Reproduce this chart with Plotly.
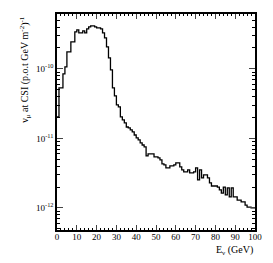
import plotly.graph_objects as go

bin_edges = list(range(0, 101))
flux = [
    2.04e-11, 5.33e-11, 5.33e-11, 8.47e-11, 1.07e-10, 1.76e-10, 1.76e-10, 2.45e-10, 2.45e-10, 3.41e-10,
    3.64e-10, 3.30e-10, 3.30e-10, 3.52e-10, 3.30e-10, 3.76e-10, 4.02e-10, 4.16e-10, 4.16e-10, 4.02e-10,
    3.89e-10, 3.89e-10, 3.76e-10, 3.30e-10, 2.79e-10, 2.07e-10, 1.44e-10, 9.70e-11, 5.33e-11, 4.09e-11,
    3.03e-11, 2.84e-11, 2.04e-11, 1.85e-11, 1.67e-11, 1.46e-11, 1.42e-11, 1.33e-11, 1.24e-11, 1.12e-11,
    1.02e-11, 9.51e-12, 8.61e-12, 8.05e-12, 7.55e-12, 5.60e-12, 5.98e-12, 5.98e-12, 5.98e-12, 5.42e-12,
    5.42e-12, 5.24e-12, 4.91e-12, 4.30e-12, 4.16e-12, 3.77e-12, 3.77e-12, 4.02e-12, 4.02e-12, 4.16e-12,
    4.44e-12, 4.44e-12, 3.89e-12, 3.52e-12, 3.30e-12, 3.30e-12, 3.52e-12, 3.19e-12, 3.19e-12, 3.30e-12,
    3.77e-12, 2.53e-12, 3.52e-12, 2.70e-12, 2.99e-12, 2.99e-12, 2.70e-12, 2.29e-12, 2.07e-12, 2.07e-12,
    2.07e-12, 2.00e-12, 1.82e-12, 1.64e-12, 2.00e-12, 1.54e-12, 1.94e-12, 1.44e-12, 1.94e-12, 1.44e-12,
    1.44e-12, 1.30e-12, 1.30e-12, 1.22e-12, 1.22e-12, 1.10e-12, 1.03e-12, 1.03e-12, 1.00e-12, 1.00e-12,
]
x_ticks = [0, 10, 20, 30, 40, 50, 60, 70, 80, 90, 100]
y_ticks = [1e-12, 1e-11, 1e-10]
y_ticktext = ["10<sup>-12</sup>", "10<sup>-11</sup>", "10<sup>-10</sup>"]
y_minor = [m * 10.0 ** e for e in (-13, -12, -11, -10) for m in range(2, 10)]
x_minor = list(range(0, 101, 2))

font = "Liberation Serif, DejaVu Serif, serif"

fig = go.Figure()
fig.add_trace(go.Scatter(
    x=bin_edges, y=flux + [flux[-1]], mode="lines",
    line=dict(shape="hv", color="black", width=1.3),
    showlegend=False, hoverinfo="skip",
))

fig.update_layout(
    width=265, height=255,
    margin=dict(l=49, r=18, t=6, b=33, pad=0),
    paper_bgcolor="white", plot_bgcolor="white",
    font=dict(family=font, size=9, color="black"),
    xaxis=dict(
        range=[0, 100], tickvals=x_ticks, ticks="inside", ticklen=5, tickwidth=1,
        showline=True, linecolor="black", linewidth=1.5, mirror="ticks", automargin=False,
        showgrid=False, zeroline=False, tickfont=dict(size=9, family=font, color="black"),
        ticklabelstandoff=-3,
        minor=dict(tickvals=x_minor, ticks="inside", ticklen=2.5, tickcolor="black", showgrid=False),
    ),
    yaxis=dict(
        type="log", range=[-12.317, -9.21], tickvals=y_ticks, ticktext=y_ticktext,
        ticks="inside", ticklen=6, tickwidth=1, automargin=False,
        showline=True, linecolor="black", linewidth=1.5, mirror="ticks",
        showgrid=False, zeroline=False, tickfont=dict(size=9, family=font, color="black"),
        minor=dict(tickvals=y_minor, ticks="inside", ticklen=3, tickcolor="black", showgrid=False),
    ),
    annotations=[
        dict(text="ν<sub>μ</sub> at CSI (p.o.t GeV m<sup>-2</sup>)<sup>-1</sup>",
             xref="paper", yref="paper", x=-0.165, y=1.0, xanchor="center", yanchor="top",
             textangle=-90, showarrow=False, font=dict(size=10, family=font, color="black")),
        dict(text="E<sub>ν</sub> (GeV)", xref="paper", yref="paper", x=1.0, y=-0.095,
             xanchor="right", yanchor="middle", showarrow=False,
             font=dict(size=10, family=font, color="black")),
    ],
)

fig.write_html("out.html")
